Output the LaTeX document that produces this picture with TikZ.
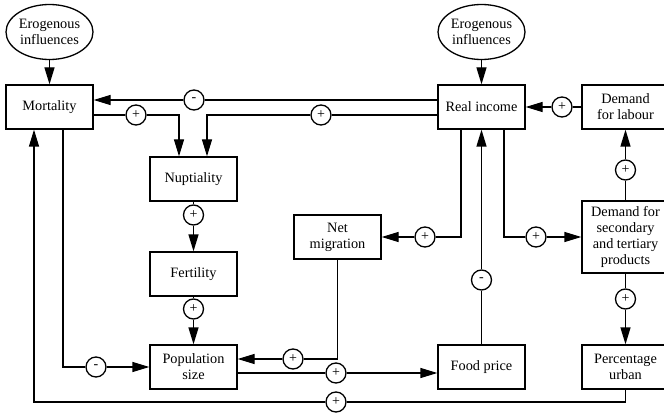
\documentclass[tikz,border=0pt]{standalone}
\usepackage{fontspec}
\setmainfont{Liberation Serif}
\usetikzlibrary{arrows.meta,shapes.geometric}
\tikzset{
  >={Triangle[length=17pt,width=10pt]},
  box/.style={draw, minimum width=87pt, minimum height=44pt, align=center,
    inner sep=2pt, font=\fontsize{14.3}{16}\selectfont},
  extern/.style={draw, ellipse, minimum width=87pt, minimum height=55pt,
    inner sep=0pt, align=center, font=\fontsize{14.3}{16}\selectfont},
  sign/.style={draw, circle, minimum size=20pt, inner sep=0pt,
    font=\fontsize{14}{14}\selectfont, fill=white},
}
\begin{document}
\begin{tikzpicture}[x=1pt,y=-1pt,line width=1.3pt]
      \useasboundingbox (0,0) rectangle (664,417);
      % factors
      \node[extern] (ext1) at (49.5,32) {Erogenous\\influences};
      \node[extern] (ext2) at (481.5,32) {Erogenous\\influences};
      \node[box] (mort) at (49.5,107) {Mortality};
      \node[box] (rinc) at (481.5,107) {Real income};
      \node[box] (lab) at (625.5,107) {Demand\\for labour};
      \node[box] (nupt) at (193.5,179) {Nuptiality};
      \node[box] (fert) at (193.5,274) {Fertility};
      \node[box] (pop) at (193.5,367) {Population\\size};
      \node[box] (mig) at (337.5,237) {Net\\migration};
      \node[box] (food) at (481.5,367) {Food price};
      \node[box, minimum height=72pt] (sec) at (625.5,237)
        {Demand for\\secondary\\and tertiary\\products};
      \node[box] (urb) at (625.5,367) {Percentage\\urban};
      % signs
      \node[sign] (s1) at (194,100) {-};
      \node[sign] (s2) at (136,115) {+};
      \node[sign] (s3) at (321,115) {+};
      \node[sign] (s4) at (193.5,215) {+};
      \node[sign] (s5) at (193.5,309) {+};
      \node[sign] (s6) at (96,367) {-};
      \node[sign] (s7) at (293,359) {+};
      \node[sign] (s8) at (336,373) {+};
      \node[sign] (s9) at (336,402) {+};
      \node[sign] (s10) at (425,237) {+};
      \node[sign] (s11) at (481.5,280) {-};
      \node[sign] (s12) at (536,237) {+};
      \node[sign] (s13) at (625.5,170) {+};
      \node[sign] (s14) at (625.5,299) {+};
      \node[sign] (s15) at (562,107) {+};
      \begin{scope}[->]
        \draw (ext1) to (mort);
        \draw (ext2) to (rinc);
        \draw (rinc.west |- s1) -- (s1) -- (mort.east |- s1);
        \draw (mort.east |- s2) -- (s2) -| ([xshift=-14.5pt]nupt.north);
        \draw (rinc.west |- s3) -- (s3) -| ([xshift=13.5pt]nupt.north);
        \draw (nupt) -- (s4) -- (fert);
        \draw (fert) -- (s5) -- (pop);
        \draw ([xshift=13.5pt]mort.south) |- (s6) -- (pop);
        \draw (mig) |- (s7) -- (pop.east |- s7);
        \draw (pop.east |- s8) -- (s8) -- (food.west |- s8);
        \draw (urb) |- (s9) -| ([xshift=-15.5pt]mort.south);
        \draw ([xshift=-20.5pt]rinc.south) |- (s10) -- (mig);
        \draw (food) -- (s11) -- (rinc);
        \draw ([xshift=22.5pt]rinc.south) |- (s12) -- (sec);
        \draw (sec) -- (s13) -- (lab);
        \draw (sec) -- (s14) -- (urb);
        \draw (lab) -- (s15) -- (rinc);
      \end{scope}
    \end{tikzpicture}
\end{document}
